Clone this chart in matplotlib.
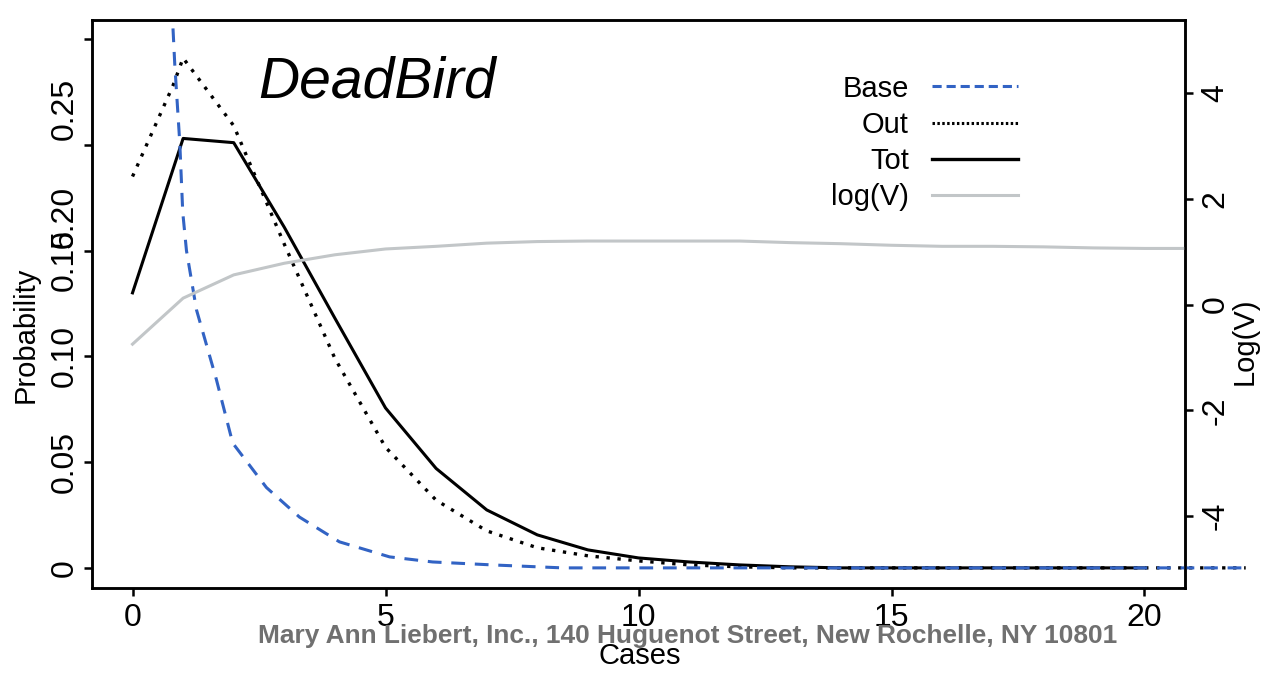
import matplotlib
matplotlib.use("Agg")
import matplotlib.pyplot as plt
from matplotlib.lines import Line2D

plt.rcParams['font.family'] = ['Liberation Sans', 'DejaVu Sans']

# DATA
tot_x = list(range(0, 21))
tot_p = [0.130, 0.203, 0.201, 0.161, 0.118, 0.0756, 0.047, 0.0274, 0.0156, 0.0085,
         0.0047, 0.0028, 0.0014, 0.0005, 0, 0, 0, 0, 0, 0, 0]

out_x = [0, 0.8, 1, 2, 3, 4, 5, 6, 7, 8, 9, 10, 11, 12, 13, 22]
out_p = [0.185, 0.228, 0.241, 0.209, 0.153, 0.099, 0.057, 0.032, 0.0175, 0.0095,
         0.0057, 0.0033, 0.0014, 0.0005, 0, 0]

base_x = [0.80, 0.835, 0.934, 0.993, 1.066, 1.264, 1.658, 1.98, 2.646, 3.30,
          4.09, 5.08, 5.93, 7.11, 8.5, 22]
base_p = [0.255, 0.238, 0.201, 0.168, 0.150, 0.122, 0.089, 0.059, 0.038, 0.024,
          0.0123, 0.0052, 0.0028, 0.0014, 0, 0]

logv_x = list(range(0, 23))
logv_v = [-0.75, 0.12, 0.56, 0.78, 0.94, 1.05, 1.10, 1.16, 1.19, 1.20, 1.20, 1.20,
          1.20, 1.17, 1.15, 1.12, 1.10, 1.10, 1.09, 1.07, 1.06, 1.06, 1.06]

x_ticks = [0, 5, 10, 15, 20]
p_ticks = [0, 0.05, 0.10, 0.15, 0.20, 0.25]
p_tick_labels = ['0', '0.05', '0.10', '', '', '']
# the upper labels sit off their ticks in the original
p_shift_pos = [0.1456, 0.166, 0.217]
p_shift_labels = ['0.15', '0.20', '0.25']
v_ticks = [-4, -2, 0, 2, 4]

blue = '#3263c4'
grey = '#c2c6c8'
fs = 21
tfs = 23

fig = plt.figure(figsize=(12.66, 6.77), dpi=100)
ax = fig.add_axes([0.0727, 0.1315, 0.8633, 0.839])
ax2 = ax.twinx()

ax.plot(base_x, base_p, color=blue, lw=2.2, ls=(0, (4.5, 3.2)), clip_on=False, zorder=4)
ax.plot(out_x, out_p, color='black', lw=2.4, ls=(0, (1, 2.3)), clip_on=False, zorder=3)
ax.plot(tot_x, tot_p, color='black', lw=2.2, clip_on=False, zorder=2)
ax2.plot(logv_x, logv_v, color=grey, lw=2.2)

ax.set_xlim(-0.8, 20.8)
ax.set_ylim(-0.0095, 0.259)
ax2.set_ylim(-5.36, 5.38)

ax.set_xticks(x_ticks)
ax.set_xticklabels([str(t) for t in x_ticks])
ax.set_yticks(p_ticks)
ax.set_yticklabels(p_tick_labels)
ax.set_yticks(p_shift_pos, minor=True)
ax.set_yticklabels(p_shift_labels, minor=True)
ax2.set_yticks(v_ticks)
ax2.set_yticklabels([str(t) for t in v_ticks])

for a in (ax, ax2):
    for s in a.spines.values():
        s.set_linewidth(1.8)
ax.tick_params(axis='both', which='major', length=6, width=1.8, labelsize=tfs, pad=3)
ax.tick_params(axis='y', which='both', labelrotation=90)
ax.tick_params(axis='y', which='minor', length=0, labelsize=tfs, pad=9)
ax.tick_params(axis='x', pad=5)
ax2.tick_params(axis='y', length=6, width=1.8, labelsize=tfs, labelrotation=90, pad=5)
for lab in ax.get_yticklabels() + ax.get_yticklabels(minor=True) + ax2.get_yticklabels():
    lab.set_va('center')

ax.set_ylabel('Probability', fontsize=fs)
ax.yaxis.set_label_coords(-0.048, 0.445)
ax2.set_ylabel('Log(V)', fontsize=fs)
ax2.yaxis.set_label_coords(1.042, 0.435)
ax.set_xlabel('Cases', fontsize=fs)
ax.xaxis.set_label_coords(0.501, -0.095)

ax.text(0.152, 0.863, 'DeadBird', transform=ax.transAxes, fontsize=41,
        style='italic', va='baseline', ha='left')

handles = [Line2D([], [], color=blue, lw=2.2, ls=(0, (3, 1.6))),
           Line2D([], [], color='black', lw=2.2, ls=(0, (0.8, 0.8))),
           Line2D([], [], color='black', lw=2.4),
           Line2D([], [], color=grey, lw=2.2)]
ax.legend(handles, ['Base', 'Out', 'Tot', 'log(V)'], loc='upper left',
          bbox_to_anchor=(0.652, 0.95), frameon=False, markerfirst=False,
          fontsize=fs, handlelength=2.95, labelspacing=0.28, handletextpad=0.8)

fig.text(0.5434, 0.0606, 'Mary Ann Liebert, Inc., 140 Huguenot Street, New Rochelle, NY 10801',
         color='#707070', fontsize=18.9, fontweight='bold', ha='center', va='center')

fig.savefig('out.png', dpi=100)
